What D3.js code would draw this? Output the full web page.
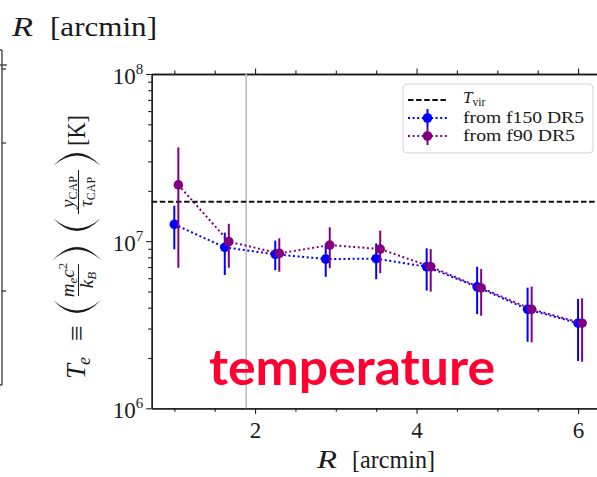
<!DOCTYPE html>
<html><head><meta charset="utf-8">
<script src="https://cdn.jsdelivr.net/npm/d3@7"></script>
<style>
body{margin:0;background:#fff}svg{display:block}
.sf{font-family:'Liberation Serif','Times New Roman','DejaVu Serif',serif}
</style></head>
<body><svg id="c" width="597" height="477"></svg>
<script>
// ---------- data ----------
const rF150   = [1.0, 1.625, 2.25, 2.875, 3.5, 4.125, 4.75, 5.375, 6.0];
const tF150   = [1.26e7, 9.18e6, 8.34e6, 7.82e6, 7.85e6, 7.03e6, 5.33e6, 3.91e6, 3.23e6];
const tF150Lo = [8.93e6, 6.27e6, 6.71e6, 6.12e6, 5.92e6, 5.06e6, 3.66e6, 2.50e6, 1.92e6];
const tF150Hi = [1.63e7, 1.125e7, 1.007e7, 9.70e6, 9.70e6, 9.06e6, 7.03e6, 5.27e6, 4.51e6];

const rF90    = [1.05, 1.675, 2.3, 2.925, 3.55, 4.175, 4.8, 5.425, 6.05];
const tF90    = [2.17e7, 9.93e6, 8.45e6, 9.48e6, 8.97e6, 7.03e6, 5.25e6, 3.91e6, 3.23e6];
const tF90Lo  = [6.93e6, 6.93e6, 6.56e6, 6.89e6, 6.43e6, 4.99e6, 3.58e6, 2.48e6, 1.90e6];
const tF90Hi  = [3.64e7, 1.27e7, 1.04e7, 1.21e7, 1.156e7, 8.97e6, 6.81e6, 5.35e6, 4.55e6];

const tVir = 1.72e7;
const rBeam = 1.89;
const xMajorTicks = [2, 4, 6];
const xMinorTicks = [1, 1.5, 2.5, 3, 3.5, 4.5, 5, 5.5];
const yMajorTicks = [1e6, 1e7, 1e8];
const yMajorLabels = ["10|6", "10|7", "10|8"];
const seriesNames = ["from f150 DR5", "from f90 DR5"];
const tVirLabel = ["T", "vir"];

// ---------- setup ----------
const svg = d3.select('#c');
const ink = '#1a1a1a';
const blue = '#0000ff', purple = '#800080';

const x = d3.scaleLinear().domain([0.72, 6.3]).range([151.7, 602.3]);
const y = d3.scaleLog().domain([1e6, 1e8]).range([408.3, 74]);
const [x0, x1] = x.range();
const [yb, yt] = y.range();

const yMinor = [];
for (const dec of [1e6, 1e7]) for (let k = 2; k <= 9; k++) yMinor.push(k * dec);

// ---------- neighbouring (cropped) panel on the left ----------
const lp = svg.append('g').attr('stroke', '#444').attr('stroke-width', 1.4);
lp.append('line').attr('x1', 2).attr('x2', 2).attr('y1', 50).attr('y2', 385);
lp.append('line').attr('x1', 0).attr('x2', 2).attr('y1', 50).attr('y2', 50);
lp.append('line').attr('x1', 0).attr('x2', 2).attr('y1', 385).attr('y2', 385);
lp.append('line').attr('x1', 0).attr('x2', 7).attr('y1', 65).attr('y2', 65);
for (const ty of [69, 143, 291]) lp.append('line').attr('x1', 2).attr('x2', 6).attr('y1', ty).attr('y2', ty);
const tl = svg.append('g').attr('class', 'sf').attr('fill', ink).attr('font-size', 28);
tl.append('text').attr('x', 12).attr('y', 36).attr('font-style', 'italic')
  .attr('textLength', 21).attr('lengthAdjust', 'spacingAndGlyphs').text('R');
tl.append('text').attr('x', 50).attr('y', 36).attr('textLength', 107).attr('lengthAdjust', 'spacingAndGlyphs').text('[arcmin]');

// ---------- axes ----------
function styleAxis(g) {
  g.select('.domain').attr('stroke', ink).attr('stroke-width', 1.3);
  g.selectAll('.tick line').attr('stroke', ink).attr('stroke-width', 1.1);
}
const gxMinor = svg.append('g').attr('transform', `translate(0,${yb})`)
  .call(d3.axisBottom(x).tickValues(xMinorTicks).tickSize(3.5).tickSizeOuter(0).tickFormat(''));
styleAxis(gxMinor);
const gx = svg.append('g').attr('transform', `translate(0,${yb})`)
  .call(d3.axisBottom(x).tickValues(xMajorTicks).tickSize(5.5).tickSizeOuter(0).tickFormat(d3.format('d')));
styleAxis(gx);
gx.attr('font-family', null);
gx.selectAll('.tick text').attr('class', 'sf').attr('font-size', 23).attr('fill', ink)
  .attr('y', 30).attr('dy', 0);

const gxTopMinor = svg.append('g').attr('transform', `translate(0,${yt})`)
  .call(d3.axisTop(x).tickValues(xMinorTicks).tickSize(3.5).tickSizeOuter(0).tickFormat(''));
styleAxis(gxTopMinor);
const gxTop = svg.append('g').attr('transform', `translate(0,${yt})`)
  .call(d3.axisTop(x).tickValues(xMajorTicks).tickSize(5.5).tickSizeOuter(0).tickFormat(''));
styleAxis(gxTop);

const gyMinor = svg.append('g').attr('transform', `translate(${x0},0)`)
  .call(d3.axisLeft(y).tickValues(yMinor).tickSize(3.5).tickSizeOuter(0).tickFormat(''));
styleAxis(gyMinor);
const gy = svg.append('g').attr('transform', `translate(${x0},0)`)
  .call(d3.axisLeft(y).tickValues(yMajorTicks).tickSize(5.5).tickSizeOuter(0).tickFormat(''));
styleAxis(gy);
gy.attr('font-family', null);
gy.selectAll('.tick').each(function(d, i) {
  const g = d3.select(this);
  g.select('text').remove();
  const parts = yMajorLabels[i].split('|');
  const t = g.append('text').attr('class', 'sf').attr('x', -8.5).attr('y', 9).attr('text-anchor', 'end')
    .attr('font-size', 23).attr('fill', ink);
  t.append('tspan').text(parts[0]);
  t.append('tspan').attr('font-size', 15).attr('dy', -10).text(parts[1]);
});

// x axis label
const xl = svg.append('g').attr('class', 'sf').attr('fill', ink).attr('font-size', 26);
xl.append('text').attr('x', 317).attr('y', 468).attr('font-style', 'italic')
  .attr('textLength', 20).attr('lengthAdjust', 'spacingAndGlyphs').text('R');
xl.append('text').attr('x', 352).attr('y', 468).attr('textLength', 83).attr('lengthAdjust', 'spacingAndGlyphs').text('[arcmin]');

// y axis label (rotated math expression)
const lab = svg.append('g').attr('class', 'sf').attr('transform', 'translate(85,381) rotate(-90)')
  .attr('fill', ink);
const te = lab.append('text').attr('x', 2).attr('y', 0).attr('font-size', 27).attr('font-style', 'italic');
te.append('tspan').text('T');
te.append('tspan').attr('font-size', 18).attr('dy', 5).attr('dx', -1).text('e');
lab.append('text').attr('x', 40).attr('y', 1).attr('font-size', 28).text('≡');
function paren(uEnd, uBulge, open) {
  const vT = -32, vB = 16, vM = (vT + vB) / 2;
  const c = 2 * uBulge - uEnd;
  const th = open ? 5 : -5;
  lab.append('path')
    .attr('d', `M${uEnd},${vT} Q${c},${vM} ${uEnd},${vB} Q${c + th},${vM} ${uEnd},${vT} Z`)
    .attr('fill', ink);
}
paren(81, 68, true);
const n1 = lab.append('text').attr('x', 101).attr('y', -11).attr('text-anchor', 'middle').attr('font-size', 19).attr('font-style', 'italic');
n1.append('tspan').text('m');
n1.append('tspan').attr('font-size', 13).attr('dy', 3).text('e');
n1.append('tspan').attr('dy', -3).text('c');
n1.append('tspan').attr('font-size', 13).attr('dy', -7).attr('font-style', 'normal').text('2');
const d1 = lab.append('text').attr('x', 101).attr('y', 8).attr('text-anchor', 'middle').attr('font-size', 19).attr('font-style', 'italic');
d1.append('tspan').text('k');
d1.append('tspan').attr('font-size', 13).attr('dy', 3).text('B');
lab.append('line').attr('x1', 85).attr('x2', 117).attr('y1', -6.5).attr('y2', -6.5).attr('stroke', ink).attr('stroke-width', 1);
paren(121, 134, false);
paren(163, 150, true);
const n2 = lab.append('text').attr('x', 189).attr('y', -11).attr('text-anchor', 'middle').attr('font-size', 19).attr('font-style', 'italic');
n2.append('tspan').text('y');
n2.append('tspan').attr('font-size', 12).attr('dy', 3).attr('font-style', 'normal').text('CAP');
const d2 = lab.append('text').attr('x', 189).attr('y', 7).attr('text-anchor', 'middle').attr('font-size', 19).attr('font-style', 'italic');
d2.append('tspan').text('τ');
d2.append('tspan').attr('font-size', 12).attr('dy', 3).attr('font-style', 'normal').text('CAP');
lab.append('line').attr('x1', 167).attr('x2', 211).attr('y1', -6.5).attr('y2', -6.5).attr('stroke', ink).attr('stroke-width', 1);
paren(215, 228, false);
lab.append('text').attr('x', 235).attr('y', 0).attr('font-size', 25).attr('textLength', 31).attr('lengthAdjust', 'spacingAndGlyphs').text('[K]');

// ---------- plot content ----------
const plot = svg.append('g');
plot.append('line').attr('x1', x(rBeam)).attr('x2', x(rBeam)).attr('y1', yt).attr('y2', yb)
  .attr('stroke', '#bdbdbd').attr('stroke-width', 1.6);
plot.append('line').attr('x1', x0).attr('x2', x1).attr('y1', y(tVir)).attr('y2', y(tVir))
  .attr('stroke', '#111').attr('stroke-width', 2).attr('stroke-dasharray', '5.5,2.6');

// red annotation
svg.append('text').attr('x', 209).attr('y', 385)
  .style('font-family', "Lato, Roboto, sans-serif").attr('font-weight', 'bold').attr('font-size', 50)
  .attr('textLength', 286).attr('lengthAdjust', 'spacingAndGlyphs')
  .attr('fill', '#ff0030').text('temperature');

function drawSeries(rs, ts, lo, hi, col) {
  const g = plot.append('g');
  const line = d3.line().x((d, i) => x(rs[i])).y(d => y(d));
  g.append('path').datum(ts).attr('d', line).attr('fill', 'none')
    .attr('stroke', col).attr('stroke-width', 2).attr('stroke-dasharray', '2,2.6');
  g.selectAll('line.err').data(ts).join('line').attr('class', 'err')
    .attr('x1', (d, i) => x(rs[i])).attr('x2', (d, i) => x(rs[i]))
    .attr('y1', (d, i) => y(lo[i])).attr('y2', (d, i) => y(hi[i]))
    .attr('stroke', col).attr('stroke-width', 2);
  g.selectAll('circle').data(ts).join('circle')
    .attr('cx', (d, i) => x(rs[i])).attr('cy', d => y(d)).attr('r', 4.8).attr('fill', col);
}
drawSeries(rF150, tF150, tF150Lo, tF150Hi, blue);
drawSeries(rF90, tF90, tF90Lo, tF90Hi, purple);

// ---------- legend ----------
const lg = svg.append('g');
lg.append('rect').attr('x', 403).attr('y', 84).attr('width', 190).attr('height', 69).attr('rx', 4)
  .attr('fill', '#fff').attr('fill-opacity', 0.85).attr('stroke', '#d4d4d4').attr('stroke-width', 1);
const rows = [100, 118, 136];
lg.append('line').attr('x1', 408).attr('x2', 447).attr('y1', rows[0]).attr('y2', rows[0])
  .attr('stroke', '#111').attr('stroke-width', 2).attr('stroke-dasharray', '5.5,2.6');
[blue, purple].forEach((col, i) => {
  const yy = rows[i + 1];
  lg.append('line').attr('x1', 408).attr('x2', 447).attr('y1', yy).attr('y2', yy)
    .attr('stroke', col).attr('stroke-width', 2).attr('stroke-dasharray', '2,2.6');
  lg.append('line').attr('x1', 427.5).attr('x2', 427.5).attr('y1', yy - 9).attr('y2', yy + 9)
    .attr('stroke', col).attr('stroke-width', 2);
  lg.append('circle').attr('cx', 427.5).attr('cy', yy).attr('r', 4.8).attr('fill', col);
  lg.append('text').attr('class', 'sf').attr('x', 463).attr('y', yy + 5).attr('font-size', 16.5)
    .attr('fill', ink).attr('textLength', i === 0 ? 121 : 112).attr('lengthAdjust', 'spacingAndGlyphs')
    .text(seriesNames[i]);
});
const tv = lg.append('text').attr('class', 'sf').attr('x', 463).attr('y', rows[0] + 3)
  .attr('font-size', 17).attr('fill', ink);
tv.append('tspan').attr('font-style', 'italic').text(tVirLabel[0]);
tv.append('tspan').attr('font-size', 11.5).attr('dy', 3).text(tVirLabel[1]);
</script>
</body></html>
